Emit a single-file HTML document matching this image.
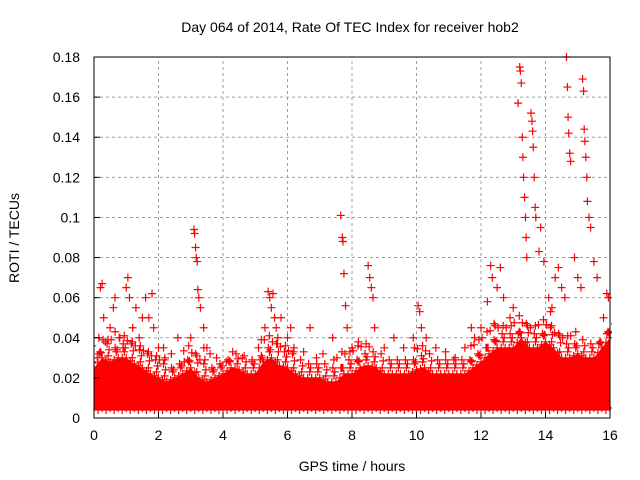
<!DOCTYPE html>
<html><head><meta charset="utf-8"><style>
body{margin:0;background:#fff;}
svg{display:block;font-family:"Liberation Sans",sans-serif;}
</style></head><body>
<svg id="chart" width="640" height="480">
<defs><clipPath id="pc"><rect x="94" y="50" width="518" height="368"/></clipPath></defs>
<rect width="640" height="480" fill="#fff"/>
<text x="350" y="32" font-size="14" text-anchor="middle">Day 064 of 2014, Rate Of TEC Index for receiver hob2</text>
<text x="352" y="471" font-size="14" text-anchor="middle">GPS time / hours</text>
<text transform="translate(19,238) rotate(-90)" font-size="14" text-anchor="middle">ROTI / TECUs</text>
<g id="grid"></g><g id="marks" clip-path="url(#pc)"></g><g id="axes"></g>
</svg>
<script>
const xTicks=[0,2,4,6,8,10,12,14,16];
const yTicks=[0,0.02,0.04,0.06,0.08,0.1,0.12,0.14,0.16,0.18];
const yTickLabels=["0","0.02","0.04","0.06","0.08","0.1","0.12","0.14","0.16","0.18"];
const bandHours=[];for(let i=0;i<=64;i++)bandHours.push(i*0.25);
const bandTop=[0.025,0.03,0.028,0.03,0.03,0.027,0.025,0.022,0.02,0.018,0.02,0.022,0.025,0.02,0.018,0.02,0.022,0.025,0.024,0.022,0.022,0.028,0.03,0.026,0.025,0.022,0.02,0.02,0.02,0.018,0.018,0.022,0.022,0.025,0.026,0.025,0.022,0.022,0.022,0.022,0.024,0.025,0.022,0.022,0.022,0.022,0.022,0.025,0.028,0.032,0.035,0.035,0.035,0.04,0.035,0.035,0.038,0.035,0.03,0.03,0.032,0.03,0.03,0.035,0.04];
const fringeTop=[0.04,0.038,0.045,0.04,0.045,0.04,0.04,0.035,0.035,0.03,0.03,0.032,0.04,0.035,0.03,0.03,0.032,0.035,0.032,0.03,0.03,0.04,0.045,0.04,0.038,0.035,0.03,0.03,0.03,0.028,0.03,0.035,0.035,0.038,0.04,0.035,0.032,0.032,0.03,0.032,0.035,0.04,0.032,0.03,0.03,0.032,0.032,0.038,0.042,0.048,0.05,0.05,0.05,0.055,0.05,0.05,0.055,0.05,0.045,0.045,0.045,0.04,0.04,0.045,0.05];
const bandFloor=0.004;
const ptX=[0.1,0.15,0.2,0.25,0.3,0.35,0.5,0.6,0.65,0.8,0.9,1.0,1.05,1.1,1.2,1.3,1.4,1.5,1.6,1.7,1.8,1.85,
2.0,2.2,2.4,2.6,2.8,3.0,3.1,3.12,3.15,3.17,3.2,3.22,3.25,3.3,3.4,3.5,3.6,3.8,4.1,4.3,4.6,4.9,5.1,
5.3,5.4,5.45,5.5,5.55,5.6,5.65,5.7,5.8,6.0,6.1,6.2,6.5,6.7,6.9,7.1,7.4,7.65,7.7,7.72,7.75,7.8,7.85,8.0,8.2,
8.5,8.55,8.6,8.65,8.7,9.0,9.3,9.6,9.9,10.05,10.1,10.15,10.3,10.6,10.9,11.2,11.5,11.7,11.8,12.0,
12.2,12.3,12.35,12.5,12.6,12.7,12.9,13.0,13.15,13.2,13.22,13.25,13.28,13.3,13.32,13.35,13.38,13.4,13.42,
13.55,13.58,13.6,13.62,13.65,13.68,13.7,13.8,13.85,13.95,14.1,14.2,14.3,14.4,14.5,14.6,14.65,14.68,14.7,14.72,14.75,14.78,
14.9,15.0,15.1,15.15,15.18,15.2,15.22,15.25,15.28,15.3,15.35,15.4,15.5,15.6,15.8,15.9,15.95];
const ptY=[0.03,0.04,0.065,0.067,0.05,0.038,0.045,0.055,0.06,0.04,0.035,0.065,0.07,0.06,0.045,0.055,0.04,0.05,0.06,0.05,0.062,0.045,
0.035,0.03,0.032,0.04,0.028,0.04,0.094,0.092,0.085,0.08,0.078,0.064,0.06,0.055,0.045,0.035,0.032,0.03,0.028,0.033,0.03,0.028,0.035,
0.045,0.063,0.06,0.055,0.062,0.05,0.045,0.04,0.05,0.04,0.045,0.035,0.033,0.045,0.03,0.032,0.04,0.101,0.09,0.088,0.072,0.056,0.045,0.035,0.038,
0.076,0.07,0.065,0.06,0.045,0.035,0.04,0.035,0.04,0.056,0.053,0.045,0.04,0.035,0.033,0.03,0.035,0.045,0.04,0.045,
0.058,0.076,0.07,0.065,0.075,0.06,0.05,0.055,0.157,0.175,0.173,0.167,0.14,0.13,0.12,0.11,0.1,0.09,0.08,
0.152,0.148,0.143,0.135,0.12,0.105,0.1,0.083,0.095,0.078,0.06,0.055,0.07,0.075,0.065,0.06,0.18,0.165,0.15,0.142,0.132,0.128,
0.08,0.07,0.065,0.169,0.163,0.144,0.138,0.13,0.12,0.108,0.1,0.095,0.078,0.07,0.05,0.062,0.06,0.055];
const NS="http://www.w3.org/2000/svg";
const X0=94,X1=610,Y0=418,Y1=57;
const sx=v=>X0+v/16*(X1-X0), sy=v=>Y0-v/0.18*(Y0-Y1);
function mk(t,a,p){const e=document.createElementNS(NS,t);for(const k in a)e.setAttribute(k,a[k]);p.appendChild(e);return e;}
const grid=document.getElementById('grid'),marks=document.getElementById('marks'),axes=document.getElementById('axes');
xTicks.forEach(v=>{
 if(v>0&&v<16){const l=mk('line',{x1:sx(v),x2:sx(v),y1:Y0,y2:Y1,stroke:'#a0a0a0','stroke-dasharray':'3,3'},grid);
 
 }
 const t=mk('text',{x:sx(v),y:Y0+22,'font-size':14,'text-anchor':'middle'},axes);t.textContent=v;
 
 
 mk('line',{x1:sx(v),x2:sx(v),y1:Y0,y2:Y0-6,stroke:'#000'},axes);
});
yTicks.forEach((v,i)=>{
 if(v>0&&v<0.18){const l=mk('line',{x1:X0,x2:X1,y1:sy(v),y2:sy(v),stroke:'#a0a0a0','stroke-dasharray':'3,3'},grid);
 
 }
 const t=mk('text',{x:X0-14,y:sy(v)+5,'font-size':14,'text-anchor':'end'},axes);t.textContent=yTickLabels[i];
 
 
 mk('line',{x1:X0,x2:X0+6,y1:sy(v),y2:sy(v),stroke:'#000'},axes);
});
const frame=mk('rect',{x:X0,y:Y1,width:X1-X0,height:Y0-Y1,fill:'none',stroke:'#000'},axes);


let pts=bandHours.map((h,i)=>sx(h)+','+sy(bandTop[i]));
pts.push(sx(16)+','+sy(bandFloor),sx(0)+','+sy(bandFloor));
const band=mk('polygon',{points:pts.join(' '),fill:'#ff0000'},marks);


function cross(x,y){return `M${x-4},${y}h8M${x},${y-4}v8`;}
let d='';
bandHours.forEach((h,i)=>{
 const top=bandTop[i],ft=fringeTop[i];
 d+=cross(sx(h),sy(top))+cross(sx(h),sy(bandFloor+0.001));
 let k=0;
 for(let y=top+0.003;y<=ft;y+=0.004){d+=cross(sx(h)+((k%2)?5:-2),sy(y));k++;}
 if(i<bandHours.length-1){const hm=(h+bandHours[i+1])/2;
  const tm=(top+bandTop[i+1])/2,fm=(ft+fringeTop[i+1])/2;
  d+=cross(sx(hm),sy(tm))+cross(sx(hm),sy(bandFloor));
  let j=0;
  for(let y=tm+0.005;y<=fm-0.002;y+=0.005){d+=cross(sx(hm)+((j%2)?-3:3),sy(y));j++;}
 }});
const edge=mk('path',{d:d,stroke:'#ff0000','stroke-width':1.2,fill:'none'},marks);


ptX.forEach((x,i)=>{const p=mk('path',{d:cross(sx(x),sy(ptY[i])),stroke:'#ff0000','stroke-width':1.2},marks);
 
 });
</script>
</body></html>
